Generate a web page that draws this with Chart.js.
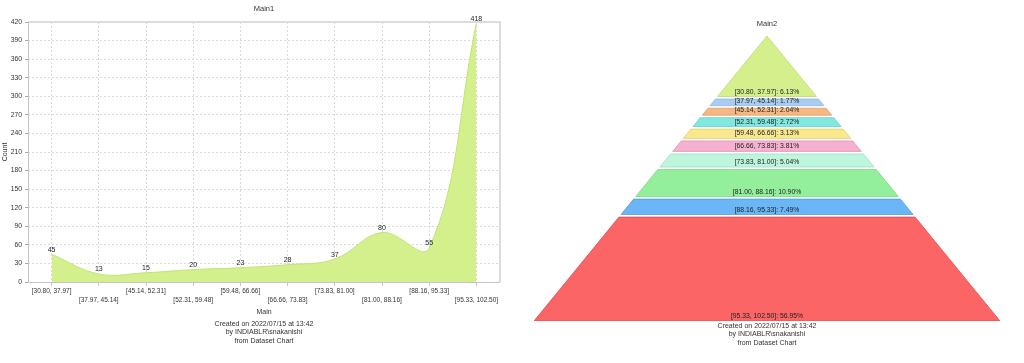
<!DOCTYPE html>
<html>
<head>
<meta charset="utf-8">
<title>Main1 / Main2</title>
<script src="https://cdn.jsdelivr.net/npm/chart.js@4.4.1/dist/chart.umd.min.js"></script>
<style>
  html, body { margin: 0; padding: 0; background: #fff; }
  #wrap { position: relative; width: 1024px; height: 363px; overflow: hidden; }
  #main1 { position: absolute; left: 0; top: 0; }
  #main2 { position: absolute; left: 510px; top: 0; }
</style>
</head>
<body>
<div id="wrap">
  <canvas id="main1" width="528" height="363"></canvas>
  <canvas id="main2" width="514" height="363"></canvas>
</div>
<script>
// --- data ---
const categories = ['[30.80, 37.97]', '[37.97, 45.14]', '[45.14, 52.31]', '[52.31, 59.48]', '[59.48, 66.66]',
                    '[66.66, 73.83]', '[73.83, 81.00]', '[81.00, 88.16]', '[88.16, 95.33]', '[95.33, 102.50]'];
const counts = [45, 13, 15, 20, 23, 28, 37, 80, 55, 418];
const yMin = 0;
const yMax = 420;
const yMajorStep = 30;
const yMinorStep = 15;
const footerLines = ['Created on 2022/07/15 at 13:42', 'by INDIABLR\\snakanishi', 'from Dataset Chart'];

// pyramid slice colours (fill / edge), top to bottom
const pyramidFill = ['#d4ef8c', '#a9cdf2', '#f6b880', '#80e8de', '#f9e98c', '#f7b1d0', '#bdf6dc', '#93ef9b', '#6ab6f6', '#fb6565'];
const pyramidEdge = ['#bcd978', '#8fb6de', '#dca06a', '#66cfc5', '#dfcf72', '#dd97b6', '#a2dcc2', '#79d581', '#509cdc', '#e14b4b'];

const FONT = "'Liberation Sans Narrow', 'Liberation Sans', sans-serif";
const TEXT = '#333';
const GRID = '#dadada';

// titles + footer text, centred on the plot area
const captions = {
  id: 'captions',
  afterDraw(chart, args, o) {
    const ctx = chart.ctx, a = chart.chartArea;
    const cx = (a.left + a.right) / 2;
    ctx.save();
    ctx.fillStyle = TEXT;
    ctx.textAlign = 'center';
    ctx.textBaseline = 'middle';
    ctx.font = '7.5px ' + FONT;
    ctx.fillText(o.title, cx, o.titleY);
    ctx.font = '7px ' + FONT;
    footerLines.forEach(function(t, i) { ctx.fillText(t, cx, o.footerY + i * 8.5); });
    ctx.restore();
  }
};

// solid frame round the plot: light top/right, greyer axes
const plotFrame = {
  id: 'plotFrame',
  beforeDatasetsDraw(chart) {
    const ctx = chart.ctx, a = chart.chartArea;
    ctx.save();
    ctx.strokeStyle = '#dcdcdc';
    ctx.lineWidth = 2;
    ctx.beginPath();
    ctx.moveTo(a.left, a.top);
    ctx.lineTo(a.right, a.top);
    ctx.lineTo(a.right, a.bottom);
    ctx.stroke();
    ctx.strokeStyle = '#c4c4c4';
    ctx.lineWidth = 1;
    ctx.beginPath();
    ctx.moveTo(a.left + 0.5, a.top);
    ctx.lineTo(a.left + 0.5, a.bottom + 0.5);
    ctx.lineTo(a.right, a.bottom + 0.5);
    ctx.stroke();
    ctx.restore();
  }
};

// value over each point
const pointLabels = {
  id: 'pointLabels',
  afterDatasetsDraw(chart) {
    const ctx = chart.ctx;
    const meta = chart.getDatasetMeta(0);
    const vals = chart.data.datasets[0].data;
    ctx.save();
    ctx.fillStyle = '#222';
    ctx.font = '7px ' + FONT;
    ctx.textAlign = 'center';
    ctx.textBaseline = 'bottom';
    meta.data.forEach(function(pt, i) { ctx.fillText(String(vals[i]), pt.x, pt.y - 1); });
    ctx.restore();
  }
};

// two-row x labels: every second one drops to the second line
const xLabels = categories.map(function(c, i) { return i % 2 ? ['', c] : [c]; });

new Chart(document.getElementById('main1'), {
  type: 'line',
  data: {
    labels: xLabels,
    datasets: [{
      data: counts,
      fill: 'origin',
      backgroundColor: '#d4f08c',
      borderColor: '#c2e27a',
      borderWidth: 1,
      tension: 0.4,
      pointRadius: 0
    }]
  },
  options: {
    responsive: false,
    animation: false,
    layout: { padding: { left: 0, right: 28, top: 22, bottom: 43 } },
    plugins: {
      legend: { display: false },
      tooltip: { enabled: false },
      captions: { title: 'Main1', titleY: 9, footerY: 324 }
    },
    scales: {
      x: {
        offset: true,
        grid: { offset: false, color: GRID, tickLength: 4, tickColor: '#c4c4c4' },
        border: { display: false, dash: [2, 2] },
        ticks: { color: TEXT, font: { family: FONT, size: 6.5, lineHeight: 1.5 }, maxRotation: 0, autoSkip: false, padding: 0 },
        title: { display: true, text: 'Main', color: TEXT, font: { family: FONT, size: 7 }, padding: { top: 2, bottom: 4 } },
        afterFit: function(s) { s.height = 38; }
      },
      y: {
        min: yMin,
        max: yMax,
        ticks: {
          stepSize: yMinorStep,
          color: TEXT,
          font: { family: FONT, size: 6.8 },
          padding: 3,
          callback: function(v) { return v % yMajorStep === 0 ? v : ''; }
        },
        grid: {
          color: function(c) { return c.tick && c.tick.value % yMajorStep === 0 ? GRID : 'rgba(0,0,0,0)'; },
          tickLength: 3,
          tickColor: '#aaa'
        },
        border: { display: false, dash: [2, 2] },
        title: { display: true, text: 'Count', color: TEXT, font: { family: FONT, size: 7 }, padding: { top: 1, bottom: 2 } },
        afterFit: function(s) { s.width = 28; }
      }
    }
  },
  plugins: [captions, plotFrame, pointLabels]
});

// --- pyramid: slice size follows each share of the total ---
const SHAPE_EXP = 0.555;  // depth = cumulative share ^ SHAPE_EXP
const GAP = 0.009;        // white gap between slices, in depth units
const total = counts.reduce(function(a, b) { return a + b; }, 0);
const shares = counts.map(function(c) { return c / total; });
let run = 0;
const bounds = shares.map(function(s) { run += s; return Math.pow(Math.min(run, 1), SHAPE_EXP); });

const pyramidSets = counts.map(function(c, i) {
  const t = i === 0 ? 0 : bounds[i - 1] + GAP;
  const b = bounds[i];
  return {
    data: [{ x: -t, y: t }, { x: t, y: t }, { x: b, y: b }, { x: -b, y: b }, { x: -t, y: t }],
    fill: 'shape',
    backgroundColor: pyramidFill[i],
    borderColor: pyramidEdge[i],
    borderWidth: 0.8,
    pointRadius: 0,
    tension: 0
  };
});

const sliceLabels = {
  id: 'sliceLabels',
  afterDatasetsDraw(chart) {
    const ctx = chart.ctx;
    const xs = chart.scales.x, ys = chart.scales.y;
    ctx.save();
    ctx.fillStyle = '#222';
    ctx.font = '6.8px ' + FONT;
    ctx.textAlign = 'center';
    ctx.textBaseline = 'bottom';
    bounds.forEach(function(b, i) {
      const txt = categories[i] + ': ' + (shares[i] * 100).toFixed(2) + '%';
      ctx.fillText(txt, xs.getPixelForValue(0), ys.getPixelForValue(b) - 1.5);
    });
    ctx.restore();
  }
};

new Chart(document.getElementById('main2'), {
  type: 'line',
  data: { datasets: pyramidSets },
  options: {
    responsive: false,
    animation: false,
    layout: { padding: { left: 24, right: 24, top: 36, bottom: 42 } },
    plugins: {
      legend: { display: false },
      tooltip: { enabled: false },
      captions: { title: 'Main2', titleY: 24, footerY: 326 }
    },
    scales: {
      x: { type: 'linear', min: -1, max: 1, display: false },
      y: { type: 'linear', min: 0, max: 1, reverse: true, display: false }
    }
  },
  plugins: [captions, sliceLabels]
});
</script>
</body>
</html>
